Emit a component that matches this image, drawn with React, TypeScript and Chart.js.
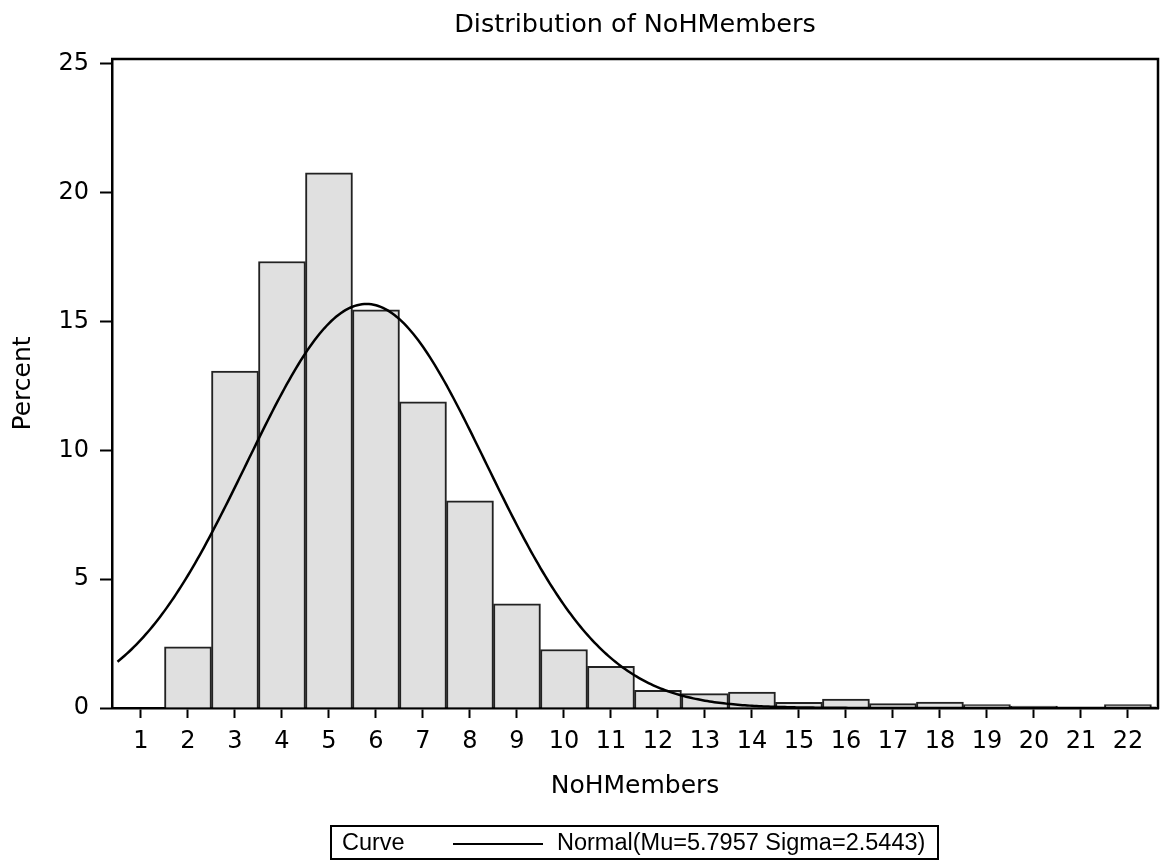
import React, { useEffect, useRef } from "react";
import { Chart, registerables } from "chart.js";

Chart.register(...registerables);

// ---- Data ----
const categories = [2, 3, 4, 5, 6, 7, 8, 9, 10, 11, 12, 13, 14, 15, 16, 17, 18, 19, 20, 21, 22];
const percents = [2.37, 13.08, 17.33, 20.77, 15.45, 11.88, 8.04, 4.04, 2.27, 1.62, 0.69, 0.56, 0.62, 0.22, 0.35, 0.17, 0.23, 0.13, 0.07, 0.02, 0.13];
const xTickValues = [1, 2, 3, 4, 5, 6, 7, 8, 9, 10, 11, 12, 13, 14, 15, 16, 17, 18, 19, 20, 21, 22];
const yTickValues = [0, 5, 10, 15, 20, 25];
const MU = 5.7957;
const SIGMA = 2.5443;
const CURVE_START = 0.5;
const CURVE_END = 22.64;
const TITLE = "Distribution of NoHMembers";
const X_TITLE = "NoHMembers";
const Y_TITLE = "Percent";
const LEGEND_LABEL = "Curve";
const LEGEND_TEXT = "Normal(Mu=5.7957 Sigma=2.5443)";

const FONT = "'DejaVu Sans', sans-serif";
const LEGEND_FONT = "'Liberation Sans', Arial, sans-serif";

function normalCurve() {
  // fitted normal density (percent scale, bin width 1) from the legend's parameters
  const pts: { x: number; y: number }[] = [];
  const k = 100 / (SIGMA * Math.sqrt(2 * Math.PI));
  for (let i = 0; ; i++) {
    const x = CURVE_START + i * 0.05;
    if (x > CURVE_END) break;
    const z = (x - MU) / SIGMA;
    pts.push({ x, y: k * Math.exp(-0.5 * z * z) });
  }
  return pts;
}

const framePlugin = {
  id: "framePlugin",
  afterDraw(chart: any) {
    const { ctx, chartArea } = chart;
    const { left, right, top, bottom } = chartArea;
    const cx = (left + right) / 2;
    ctx.save();
    // top and right frame
    ctx.strokeStyle = "#000";
    ctx.lineWidth = 2.5;
    ctx.beginPath();
    ctx.moveTo(left - 1, top);
    ctx.lineTo(right, top);
    ctx.lineTo(right, bottom + 1);
    ctx.stroke();

    // title
    ctx.fillStyle = "#000";
    ctx.font = `25.5px ${FONT}`;
    ctx.textAlign = "center";
    ctx.textBaseline = "middle";
    ctx.fillText(TITLE, cx, 25);

    // legend box
    const bx = cx - 304;
    const by = 826;
    const bw = 607;
    const bh = 33;
    ctx.lineWidth = 2;
    ctx.strokeRect(bx, by, bw, bh);
    ctx.font = `23.5px ${LEGEND_FONT}`;
    ctx.textAlign = "left";
    ctx.textBaseline = "middle";
    ctx.fillText(LEGEND_LABEL, bx + 11, by + bh / 2 + 1);
    ctx.beginPath();
    ctx.moveTo(bx + 122, by + 18);
    ctx.lineTo(bx + 212, by + 18);
    ctx.stroke();
    ctx.fillText(LEGEND_TEXT, bx + 226, by + bh / 2 + 1);
    ctx.restore();
  },
};

export default function App() {
  const canvasRef = useRef<HTMLCanvasElement | null>(null);

  useEffect(() => {
    const canvas = canvasRef.current;
    if (!canvas) return;
    const barData = categories.map((c, i) => ({ x: c, y: percents[i] }));
    const chart = new Chart(canvas, {
      type: "bar",
      data: {
        datasets: [
          {
            type: "line",
            data: normalCurve(),
            borderColor: "#000",
            borderWidth: 2.5,
            pointRadius: 0,
            fill: false,
            tension: 0,
            order: 0,
          } as any,
          {
            type: "bar",
            data: barData,
            backgroundColor: "#e0e0e0",
            borderColor: "#222",
            borderWidth: 2,
            barPercentage: 1,
            categoryPercentage: 1,
            order: 1,
          } as any,
        ],
      },
      options: {
        animation: false,
        responsive: true,
        maintainAspectRatio: false,
        layout: { padding: { top: 59, right: 2, bottom: 54, left: 0 } },
        plugins: {
          legend: { display: false },
          tooltip: { enabled: false },
          title: { display: false },
        },
        scales: {
          x: {
            type: "linear",
            min: 0.383,
            max: CURVE_END,
            offset: false,
            afterBuildTicks: (scale: any) => {
              scale.ticks = xTickValues.map((v) => ({ value: v }));
            },
            afterFit: (scale: any) => {
              scale.height = 100;
            },
            grid: {
              display: true,
              offset: false,
              drawOnChartArea: false,
              drawTicks: true,
              tickLength: 10,
              tickColor: "#000",
              tickWidth: 2,
            },
            border: { display: true, color: "#000", width: 2.5 },
            ticks: {
              color: "#000",
              font: { family: FONT, size: 24 },
              padding: 9,
              maxRotation: 0,
              autoSkip: false,
              callback: (v: any) => String(v),
            },
            title: {
              display: true,
              text: X_TITLE,
              color: "#000",
              font: { family: FONT, size: 25 },
              padding: { top: 0, bottom: 7 },
            },
          },
          y: {
            type: "linear",
            min: 0,
            max: 25.19,
            afterBuildTicks: (scale: any) => {
              scale.ticks = yTickValues.map((v) => ({ value: v }));
            },
            afterFit: (scale: any) => {
              scale.width = 112;
            },
            grid: {
              display: true,
              offset: false,
              drawOnChartArea: false,
              drawTicks: true,
              tickLength: 12,
              tickColor: "#000",
              tickWidth: 2,
            },
            border: { display: true, color: "#000", width: 2.5 },
            ticks: {
              color: "#000",
              font: { family: FONT, size: 24 },
              padding: 11,
              callback: (v: any) => String(v),
            },
            title: {
              display: true,
              text: Y_TITLE,
              color: "#000",
              font: { family: FONT, size: 25 },
              padding: { top: 8, bottom: 0 },
            },
          },
        },
      } as any,
      plugins: [framePlugin],
    });
    return () => chart.destroy();
  }, []);

  return (
    <div
      style={{
        position: "fixed",
        left: 0,
        top: 0,
        width: 1160,
        height: 862,
        background: "#fff",
      }}
    >
      <canvas ref={canvasRef} />
    </div>
  );
}
